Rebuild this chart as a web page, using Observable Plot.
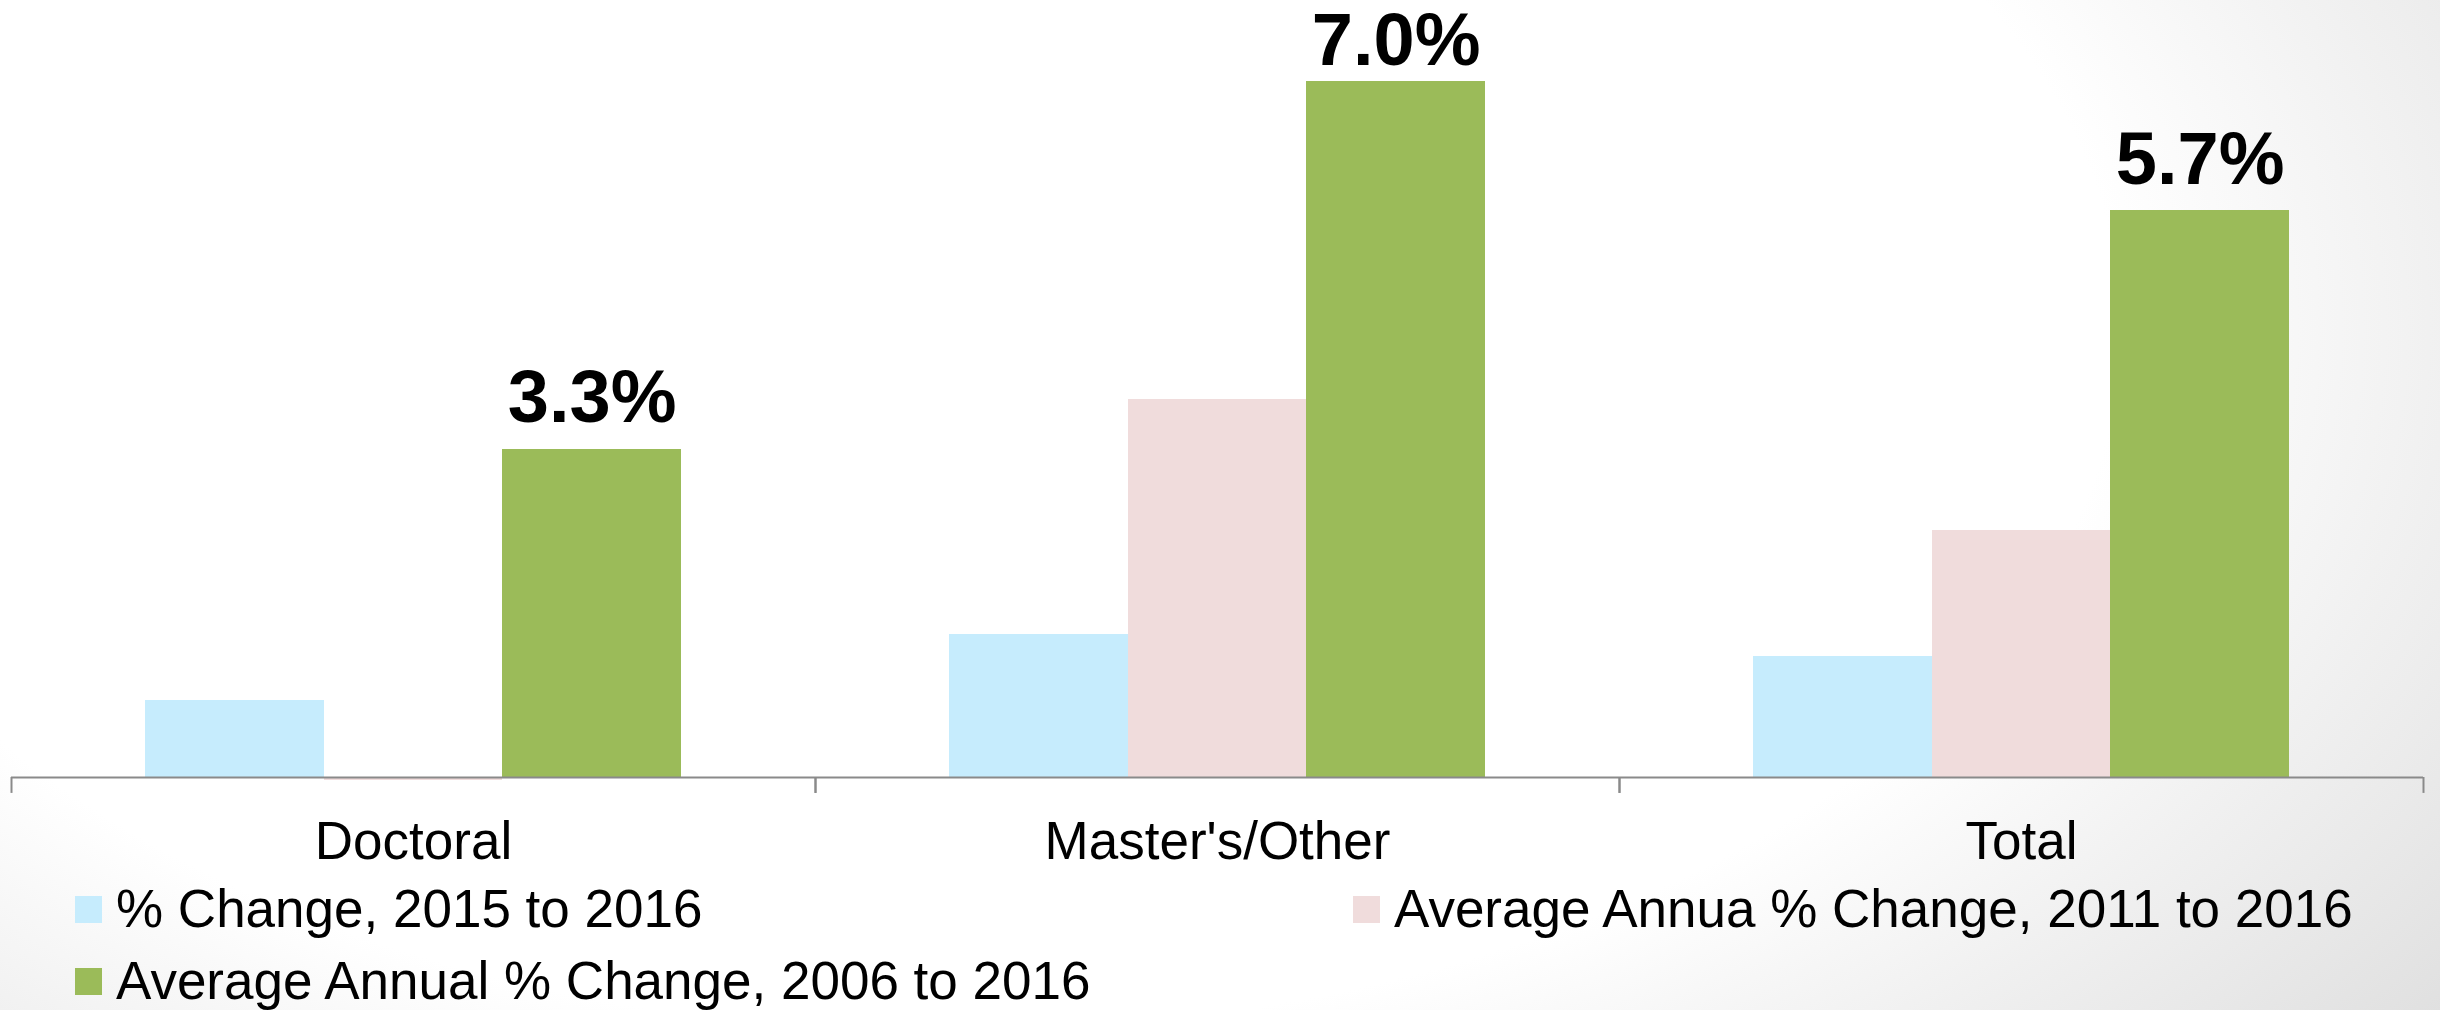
<!DOCTYPE html>
<html>
<head>
<meta charset="utf-8">
<script src="https://cdn.jsdelivr.net/npm/d3@7"></script>
<script src="https://cdn.jsdelivr.net/npm/@observablehq/plot@0.6"></script>
<style>
  html, body { margin: 0; padding: 0; overflow: hidden; }
  #page {
    width: 2440px; height: 1010px; overflow: hidden; position: relative;
    background: radial-gradient(ellipse 1500px 900px at 950px 330px, #ffffff 78%, #f0f0f0 100%, #e0e0e0 125%);
    font-family: "Liberation Sans", Arial, sans-serif;
  }
  #legend {
    display: grid;
    grid-template-columns: 1278px auto;
    grid-auto-rows: 72px;
    padding-left: 75px;
    padding-top: 3px;
  }
  .item { display: flex; align-items: center; font-size: 53px; line-height: 72px; color: #000; white-space: nowrap; }
  .sw { width: 27px; height: 27px; flex: none; margin-right: 14px; }
</style>
</head>
<body>
<div id="page"><div id="chart"></div><div id="legend"></div></div>
<script>
// ---- data ----
const categories = ["Doctoral", "Master's/Other", "Total"];
const seriesNames = [
  "% Change, 2015 to 2016",
  "Average Annua % Change, 2011 to 2016",
  "Average Annual % Change, 2006 to 2016"
];
const change2015to2016 = [0.77, 1.44, 1.22];
const avgAnnual2011to2016 = [-0.03, 3.80, 2.48];
const avgAnnual2006to2016 = [3.3, 7.0, 5.7];
const seriesColors = ["#C6ECFD", "#F0DCDC", "#9BBB59"];
const labeledSeries = 2; // only the 2006-2016 series carries value labels

const seriesValues = [change2015to2016, avgAnnual2011to2016, avgAnnual2006to2016];
const data = categories.flatMap((c, i) =>
  seriesNames.map((s, j) => ({category: c, series: s, idx: j, value: seriesValues[j][i]}))
);

// layout constants (styling)
const outerPad = 0.75;               // group padding, in bar widths
const xMax = seriesNames.length + 2 * outerPad;
const axisColor = "#8a8a8a";
const labelCeiling = 6.89;           // value labels are kept inside the chart area

const chart = Plot.plot({
  width: 2440,
  height: 870,
  marginLeft: 11,
  marginRight: 17,
  marginTop: 0,
  marginBottom: 93,
  style: {background: "transparent", fontFamily: "'Liberation Sans', Arial, sans-serif", color: "#000"},
  fx: {domain: categories, padding: 0, label: null},
  x: {domain: [0, xMax], axis: null},
  y: {domain: [0, 7], range: [777, 81], axis: null},
  color: {domain: seriesNames, range: seriesColors},
  marks: [
    Plot.rectY(data, {
      fx: "category",
      x1: d => d.idx + outerPad,
      x2: d => d.idx + outerPad + 1,
      y1: 0,
      y2: "value",
      fill: "series",
      shapeRendering: "crispEdges"
    }),
    Plot.ruleY([0], {stroke: axisColor, strokeWidth: 2}),
    Plot.ruleX([0, xMax], {y1: 0, y2: -0.16, stroke: axisColor, strokeWidth: 2}),
    Plot.text(data.filter(d => d.idx === labeledSeries), {
      fx: "category",
      x: d => d.idx + outerPad + 0.5,
      y: d => Math.min(d.value, labelCeiling),
      text: d => d.value.toFixed(1) + "%",
      dy: -27,
      lineAnchor: "bottom",
      fontSize: 74,
      fontWeight: "bold",
      fill: "#000"
    }),
    Plot.axisFx({anchor: "bottom", tickSize: 0, tickPadding: 44, fontSize: 53, fill: "#000", label: null})
  ]
});
document.getElementById("chart").appendChild(chart);

// ---- legend ----
const legend = document.getElementById("legend");
seriesNames.forEach((name, i) => {
  const item = document.createElement("div");
  item.className = "item";
  const sw = document.createElement("span");
  sw.className = "sw";
  sw.style.background = seriesColors[i];
  const t = document.createElement("span");
  t.textContent = name;
  item.appendChild(sw);
  item.appendChild(t);
  legend.appendChild(item);
});
</script>
</body>
</html>
